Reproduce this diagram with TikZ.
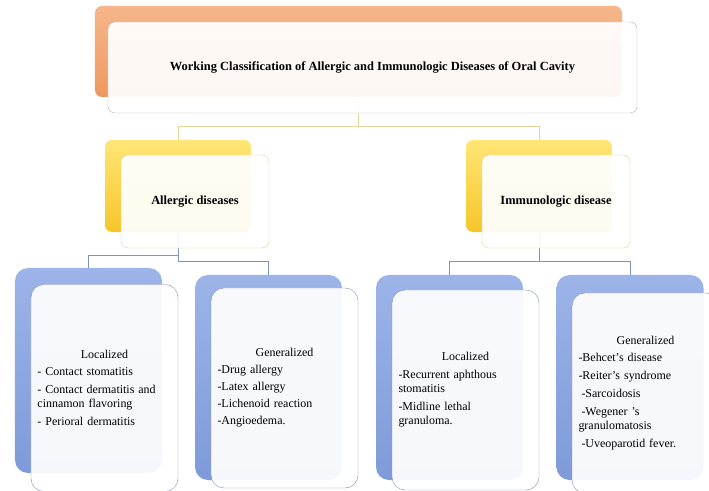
\documentclass[tikz,border=0pt]{standalone}
\usepackage{fontspec}
\setmainfont{Liberation Serif}
\usepackage{xcolor}
\definecolor{orangeT}{HTML}{F6B68A}
\definecolor{orangeB}{HTML}{EE985F}
\definecolor{yellowT}{HTML}{FFE676}
\definecolor{yellowB}{HTML}{F6C52A}
\definecolor{blueT}{HTML}{9CB4E8}
\definecolor{blueB}{HTML}{7E9AD9}
\definecolor{goldwire}{HTML}{E2D69A}
\definecolor{bluewire}{HTML}{7C95BA}
\definecolor{topedge}{HTML}{C6B0A8}
\definecolor{goldedge}{HTML}{E3D18A}
\definecolor{blueedge}{HTML}{8590B2}

\begin{document}
\begin{tikzpicture}[x=1bp,y=-1bp,
    box/.style={rectangle,rounded corners=7bp,inner sep=0pt},
    face/.style={box,fill=white,fill opacity=0.93,text opacity=1},
    orangebk/.style={box,top color=orangeT,bottom color=orangeB,
        minimum width=527bp,minimum height=91bp},
    topface/.style={face,draw=topedge,minimum width=529bp,minimum height=91bp,
        font=\fontsize{12.5}{14}\selectfont\bfseries},
    yellowbk/.style={box,top color=yellowT,bottom color=yellowB,
        minimum width=146bp,minimum height=92bp},
    yellowface/.style={face,draw=goldedge,minimum width=148bp,minimum height=93bp,
        font=\fontsize{12.5}{14}\selectfont\bfseries},
    bluebk/.style={box,rounded corners=13bp,top color=blueT,bottom color=blueB,
        minimum width=147bp,minimum height=205bp},
    blueface/.style={face,rounded corners=13bp,draw=blueedge,minimum width=147bp,
        minimum height=200bp,text width=134bp,align=left,
        font=\fontsize{12}{14}\selectfont},
    goldline/.style={draw=goldwire,line width=1bp},
    blueline/.style={draw=bluewire,line width=1bp}
]
    \clip (0,0) rectangle (709,491);

    % Back shapes
    \node[orangebk] (topbk) at (358.5,51.5) {};
    \node[yellowbk] (allgbk) at (178,186) {};
    \node[yellowbk] (immubk) at (539,186) {};
    \node[bluebk] (locAbk) at (88.5,370.5) {};
    \node[bluebk] (genAbk) at (268.5,377.5) {};
    \node[bluebk] (locBbk) at (449.5,377.5) {};
    \node[bluebk] (genBbk) at (630,377.5) {};

    % Connectors
    \draw[goldline] (topbk) -- ++(0,75.5) -| (allgbk);
    \draw[goldline] (topbk) -- ++(0,75.5) -| (immubk);
    \draw[blueline] (allgbk) -- ++(0,70) -| (locAbk);
    \draw[blueline] (allgbk) -- ++(0,75) -| (genAbk);
    \draw[blueline] (immubk) -- ++(0,75) -| (locBbk);
    \draw[blueline] (immubk) -- ++(0,75) -| (genBbk);

    % Front shapes
    \node[topface] (top) at (372.5,67.5)
        {Working Classification of Allergic and Immunologic Diseases of Oral Cavity};
    \node[yellowface] (allg) at (195,201.5) {Allergic diseases};
    \node[yellowface] (immu) at (556,201.5) {Immunologic disease};

    % Allergic leaves
    \node[blueface,minimum height=207bp] (locA) at (104.5,388)
        {\makebox[134bp]{Localized}\\[3bp]
         - Contact stomatitis\\[4bp]
         - Contact dermatitis and\\cinnamon flavoring\\[4bp]
         - Perioral dermatitis};
    \node[blueface] (genA) at (284.5,388)
        {\makebox[134bp]{Generalized}\\[3bp]
         -Drug allergy\\[3bp]
         -Latex allergy\\[3bp]
         -Lichenoid reaction\\[3bp]
         -Angioedema.};
    % Immunologic leaves
    \node[blueface] (locB) at (465.5,390)
        {\makebox[134bp]{Localized}\\[4bp]
         -Recurrent aphthous\\stomatitis\\[4bp]
         -Midline lethal\\granuloma.};
    \node[blueface] (genB) at (645.5,393)
        {\makebox[134bp]{Generalized}\\[3bp]
         -Behcet's disease\\[4bp]
         -Reiter's syndrome\\[4bp]
         \hspace{3bp}-Sarcoidosis\\[4bp]
         \hspace{3bp}-Wegener 's\\granulomatosis\\[4bp]
         \hspace{3bp}-Uveoparotid fever.};
\end{tikzpicture}
\end{document}
